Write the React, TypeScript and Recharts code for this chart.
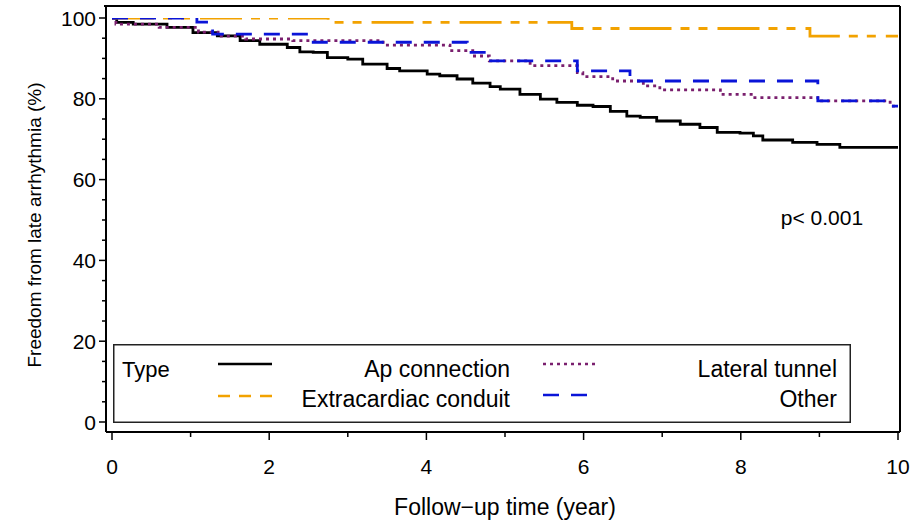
import React from 'react';
import { LineChart, Line, XAxis, YAxis, Legend } from 'recharts';

// Kaplan-Meier estimates (time in years, freedom in %)
const apTime = [0, 0.06, 0.27, 0.7, 1.03, 1.34, 1.63, 1.88, 2.23, 2.39, 2.56, 2.74, 3.0, 3.19, 3.5, 3.66, 4.01, 4.17, 4.39, 4.59, 4.81, 4.94, 5.19, 5.45, 5.66, 5.92, 6.12, 6.34, 6.55, 6.72, 6.93, 7.23, 7.48, 7.7, 7.99, 8.16, 8.28, 8.66, 8.97, 9.26, 10];
const apSurv = [100, 98.9, 98.5, 97.7, 96.4, 95.6, 94.4, 93.5, 92.7, 91.6, 91.5, 90.2, 89.8, 88.6, 87.5, 86.9, 86.1, 85.7, 84.9, 83.9, 83.0, 82.4, 81.1, 79.9, 79.1, 78.4, 78.1, 76.9, 75.7, 75.4, 74.5, 73.7, 72.9, 71.7, 71.5, 70.8, 69.8, 69.2, 68.7, 68.0, 68.0];

const ecTime = [0, 2.75, 5.85, 8.88, 10];
const ecSurv = [100, 98.9, 97.4, 95.5, 95.5];

const ltTime = [0, 0.05, 0.6, 1.1, 1.35, 1.7, 2.3, 3.45, 4.3, 4.59, 4.8, 5.32, 5.92, 5.99, 6.37, 6.76, 6.97, 7.74, 8.16, 8.98, 9.9, 10];
const ltSurv = [100, 98.5, 97.7, 96.5, 95.5, 94.8, 94.4, 93.3, 91.9, 90.6, 89.4, 88.2, 86.5, 85.5, 84.4, 83.2, 82.2, 81.1, 80.3, 79.5, 78.2, 78.2];

const otTime = [0, 1.08, 1.28, 2.56, 4.52, 4.77, 5.92, 6.59, 8.98, 9.9, 10];
const otSurv = [100, 99.0, 96.0, 94.0, 91.5, 89.4, 86.9, 84.4, 79.5, 78.2, 78.2];

const xTicks = [0, 1, 2, 3, 4, 5, 6, 7, 8, 9, 10];
const yTicks = [0, 5, 10, 15, 20, 25, 30, 35, 40, 45, 50, 55, 60, 65, 70, 75, 80, 85, 90, 95, 100];

const seriesNames = ['Ap connection', 'Extracardiac conduit', 'Lateral tunnel', 'Other'];

const toData = (t: number[], v: number[]) => t.map((x, i) => ({ t: x, v: v[i] }));
const apData = toData(apTime, apSurv);
const ecData = toData(ecTime, ecSurv);
const ltData = toData(ltTime, ltSurv);
const otData = toData(otTime, otSurv);

const FONT = '"Liberation Sans", Arial, Helvetica, sans-serif';
const BLACK = '#000000';
const ORANGE = '#f2a200';
const PURPLE = '#7a1f6e';
const BLUE = '#0a14d8';
const EC_DASH = '42 9 9 9 9 10';
const LT_DASH = '3 4';
const OT_DASH = '16 12';

const YTick = (props: any) => {
  const { x, y, payload } = props;
  const major = payload.value % 20 === 0;
  const len = major ? 7 : 4;
  return (
    <g>
      <line x1={x - len} x2={x} y1={y} y2={y} stroke="#000" strokeWidth={1.5} />
      {major && (
        <text x={x - 10} y={y} textAnchor="end" dominantBaseline="central" fontSize={21} fontFamily={FONT} fill="#000">
          {payload.value}
        </text>
      )}
    </g>
  );
};

const XTick = (props: any) => {
  const { x, y, payload } = props;
  const major = payload.value % 2 === 0;
  const len = major ? 8 : 5;
  return (
    <g>
      <line x1={x} x2={x} y1={y} y2={y + len} stroke="#000" strokeWidth={1.5} />
      {major && (
        <text x={x} y={y + 34} textAnchor="middle" dominantBaseline="central" fontSize={21} fontFamily={FONT} fill="#000">
          {payload.value}
        </text>
      )}
    </g>
  );
};

const LegendBox = () => (
  <svg width={738} height={79} style={{ display: 'block' }}>
    <rect x={0.75} y={0.75} width={736.5} height={77.5} fill="#fff" stroke="#222" strokeWidth={1.5} />
    <text x={9} y={25} dominantBaseline="central" fontSize={22} fontFamily={FONT} fill="#000">Type</text>
    <line x1={105} x2={159} y1={20} y2={20} stroke={BLACK} strokeWidth={2.5} />
    <text x={397} y={25} textAnchor="end" dominantBaseline="central" fontSize={23} fontFamily={FONT} fill="#000">{seriesNames[0]}</text>
    <line x1={430} x2={485} y1={20} y2={20} stroke={PURPLE} strokeWidth={2.5} strokeDasharray={LT_DASH} />
    <text x={724} y={25} textAnchor="end" dominantBaseline="central" fontSize={23} fontFamily={FONT} fill="#000">{seriesNames[2]}</text>
    <line x1={105} x2={159} y1={52} y2={52} stroke={ORANGE} strokeWidth={2.5} strokeDasharray="12 9 12 9 12" />
    <text x={397} y={55} textAnchor="end" dominantBaseline="central" fontSize={23} fontFamily={FONT} fill="#000">{seriesNames[1]}</text>
    <line x1={430} x2={474} y1={51} y2={51} stroke={BLUE} strokeWidth={2.5} strokeDasharray={OT_DASH} />
    <text x={724} y={55} textAnchor="end" dominantBaseline="central" fontSize={23} fontFamily={FONT} fill="#000">{seriesNames[3]}</text>
  </svg>
);

export default function App() {
  return (
    <div style={{ position: 'absolute', left: 0, top: 0, width: 910, height: 523, background: '#fff' }}>
      <LineChart width={910} height={523} margin={{ top: 6, right: 9, bottom: 90, left: 105 }}>
        <XAxis
          xAxisId={0}
          dataKey="t"
          type="number"
          domain={[0, 10]}
          ticks={xTicks}
          interval={0}
          height={1}
          tickSize={0}
          tickMargin={0}
          tickLine={false}
          tick={<XTick />}
          axisLine={{ stroke: '#000', strokeWidth: 2 }}
          padding={{ left: 6, right: 2 }}
          allowDataOverflow
        />
        <YAxis
          yAxisId={0}
          type="number"
          domain={[0, 100]}
          ticks={yTicks}
          interval={0}
          width={1}
          tickSize={0}
          tickMargin={0}
          tickLine={false}
          tick={<YTick />}
          axisLine={{ stroke: '#000', strokeWidth: 2 }}
          padding={{ top: 12, bottom: 10 }}
          allowDataOverflow
        />
        <YAxis yAxisId="right" orientation="right" type="number" domain={[0, 100]} width={1} tick={false} tickLine={false} axisLine={{ stroke: '#000', strokeWidth: 2 }} />
        <Line data={apData} dataKey="v" name={seriesNames[0]} type="stepAfter" stroke={BLACK} strokeWidth={2.8} dot={false} isAnimationActive={false} />
        <Line data={ecData} dataKey="v" name={seriesNames[1]} type="stepAfter" stroke={ORANGE} strokeWidth={2.8} strokeDasharray={EC_DASH} dot={false} isAnimationActive={false} />
        <Line data={ltData} dataKey="v" name={seriesNames[2]} type="stepAfter" stroke={PURPLE} strokeWidth={2.8} strokeDasharray={LT_DASH} dot={false} isAnimationActive={false} />
        <Line data={otData} dataKey="v" name={seriesNames[3]} type="stepAfter" stroke={BLUE} strokeWidth={2.8} strokeDasharray={OT_DASH} dot={false} isAnimationActive={false} />
        <Legend
          layout="horizontal"
          verticalAlign="middle"
          align="center"
          wrapperStyle={{ left: 113, top: 344, width: 738, height: 79 }}
          content={() => <LegendBox />}
        />
        <text x={822} y={217} textAnchor="middle" dominantBaseline="central" fontSize={21} fontFamily={FONT} fill="#000">p&lt; 0.001</text>
        <text x={505} y={507} textAnchor="middle" dominantBaseline="central" fontSize={23} fontFamily={FONT} fill="#000">Follow−up time (year)</text>
        <g transform="rotate(-90 34 225)">
          <text x={34} y={225} textAnchor="middle" dominantBaseline="central" fontSize={19} fontFamily={FONT} fill="#000">Freedom from late arrhythmia (%)</text>
        </g>
      </LineChart>
      <div style={{ position: 'absolute', left: 104, top: 5, width: 796, height: 0, borderTop: '2px solid #000', pointerEvents: 'none' }} />
    </div>
  );
}
